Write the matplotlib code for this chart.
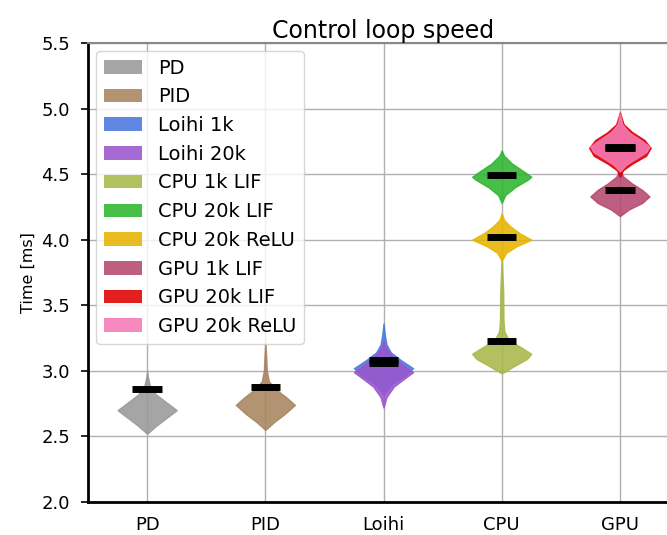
import numpy as np
import matplotlib
matplotlib.use("Agg")
import matplotlib.pyplot as plt
import matplotlib.patches as patches

# group positions on the x axis
groups = ["PD", "PID", "Loihi", "CPU", "GPU"]

# series: label, group index, colour
labels = ["PD", "PID", "Loihi 1k", "Loihi 20k", "CPU 1k LIF", "CPU 20k LIF",
          "CPU 20k ReLU", "GPU 1k LIF", "GPU 20k LIF", "GPU 20k ReLU"]
group_of = [1, 2, 3, 3, 4, 4, 4, 5, 5, 5]
colors = ["#999999", "#a8845f", "#4a78e0", "#9a55cc", "#a9b84a", "#2db52d",
          "#e6b400", "#b5486e", "#e00000", "#f57ab5"]

# estimated density profiles (time in ms, relative density) and means
coords = [
    [2.52, 2.58, 2.64, 2.70, 2.76, 2.82, 2.88, 2.95, 3.00],
    [2.55, 2.61, 2.67, 2.74, 2.80, 2.86, 2.92, 3.00, 3.10, 3.22],
    [2.82, 2.90, 2.96, 3.02, 3.08, 3.14, 3.20, 3.28, 3.36],
    [2.72, 2.80, 2.88, 2.94, 2.99, 3.04, 3.10, 3.16, 3.22],
    [2.98, 3.04, 3.09, 3.13, 3.18, 3.23, 3.30, 3.38, 3.60, 3.88],
    [4.28, 4.34, 4.40, 4.46, 4.48, 4.52, 4.58, 4.64, 4.68],
    [3.84, 3.90, 3.95, 4.00, 4.05, 4.10, 4.15, 4.20],
    [4.18, 4.23, 4.28, 4.33, 4.38, 4.43, 4.48, 4.53],
    [4.48, 4.53, 4.58, 4.64, 4.70, 4.76, 4.82, 4.88, 4.97],
    [4.52, 4.57, 4.62, 4.67, 4.71, 4.76, 4.82, 4.88, 4.96],
]
dens = [
    [0, 0.30, 0.65, 1.00, 0.65, 0.30, 0.10, 0.03, 0],
    [0, 0.30, 0.65, 1.00, 0.70, 0.35, 0.12, 0.05, 0.03, 0],
    [0, 0.30, 0.70, 1.00, 0.60, 0.25, 0.10, 0.04, 0],
    [0, 0.10, 0.35, 0.70, 1.00, 0.70, 0.35, 0.12, 0],
    [0, 0.45, 0.85, 1.00, 0.65, 0.25, 0.09, 0.06, 0.05, 0],
    [0, 0.12, 0.45, 0.90, 1.00, 0.75, 0.35, 0.08, 0],
    [0, 0.15, 0.50, 1.00, 0.60, 0.30, 0.08, 0],
    [0, 0.30, 0.75, 1.00, 0.75, 0.40, 0.12, 0],
    [0, 0.10, 0.40, 0.85, 1.00, 0.80, 0.40, 0.12, 0],
    [0, 0.20, 0.55, 0.90, 1.00, 0.70, 0.30, 0.08, 0],
]
means = [2.86, 2.88, 3.08, 3.06, 3.23, 4.49, 4.02, 4.38, 4.70, 4.71]
widths = [0.5, 0.5, 0.5, 0.5, 0.5, 0.5, 0.5, 0.5, 0.52, 0.5]

fig = plt.figure(figsize=(6.67, 5.35), dpi=100)
ax = fig.add_axes([0.132, 0.0617, 0.886, 0.858])

for i in range(len(labels)):
    c = np.array(coords[i])
    v = np.array(dens[i], dtype=float)
    stats = [dict(coords=c, vals=v, mean=means[i], median=means[i],
                  min=c.min(), max=c.max())]
    parts = ax.violin(stats, positions=[group_of[i]], widths=widths[i],
                      showmeans=True, showextrema=False, showmedians=False)
    for b in parts["bodies"]:
        b.set_facecolor(colors[i])
        b.set_edgecolor(colors[i])
        b.set_alpha(0.88)
        b.set_linewidth(1)
    parts["cmeans"].set_color("black")
    parts["cmeans"].set_linewidth(5)
    parts["cmeans"].set_segments([[[group_of[i] - 0.125, means[i]],
                                   [group_of[i] + 0.125, means[i]]]])

ax.set_xlim(0.5, 5.5)
ax.set_ylim(2.0, 5.5)
ax.set_xticks(range(1, len(groups) + 1))
ax.set_xticklabels(groups)
ax.set_yticks(np.arange(2.0, 5.51, 0.5))
ax.tick_params(labelsize=13, length=5, width=1.2)
ax.tick_params(axis="y", pad=8)
ax.tick_params(axis="x", length=0, pad=10)
ax.grid(True, color="#b0b0b0", lw=1)
ax.set_axisbelow(True)
ax.spines["left"].set_linewidth(2)
ax.spines["bottom"].set_linewidth(2)
ax.spines["top"].set_color("#888888")
ax.spines["top"].set_linewidth(1.5)
ax.set_ylabel("Time [ms]", fontsize=11.5, labelpad=4)
ax.set_title("Control loop speed", fontsize=17, pad=2)

handles = [patches.Patch(facecolor=colors[i], alpha=0.88, label=labels[i])
           for i in range(len(labels))]
ax.legend(handles=handles, loc="upper left", fontsize=14, labelspacing=0.5,
          framealpha=0.8, borderaxespad=0.4)

plt.savefig("out.png", dpi=100)
